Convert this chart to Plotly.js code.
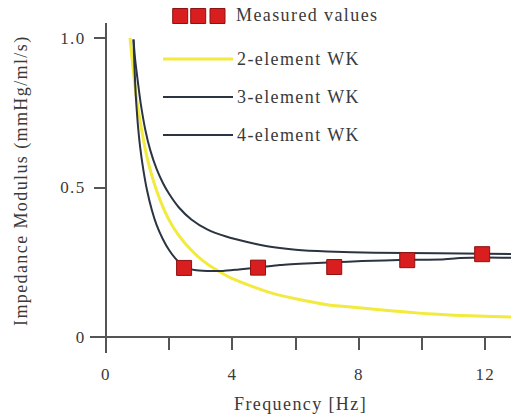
<!DOCTYPE html>
<html>
<head>
<meta charset="utf-8">
<script src="https://cdn.plot.ly/plotly-3.0.1.min.js"></script>
<style>
  html, body { margin: 0; padding: 0; background: #fff; }
  #chart { width: 511px; height: 420px; }
  svg text { letter-spacing: 1.4px; }
</style>
</head>
<body>
<div id="chart"></div>
<script>
// ---- Data ----
const measFreq = [2.47, 4.81, 7.22, 9.53, 11.9];
const measZ    = [0.231, 0.232, 0.234, 0.257, 0.277];

const wk2Freq = [0.76, 0.85, 0.95, 1.05, 1.15, 1.3, 1.45, 1.6, 1.8, 2.0, 2.3, 2.7, 3.1, 3.5, 4.0, 4.6, 5.3, 6.0, 7.0, 8.0, 9.0, 10.0, 11.0, 12.0, 12.82];
const wk2Z    = [1.0, 0.905, 0.81, 0.74, 0.68, 0.6, 0.54, 0.49, 0.435, 0.39, 0.34, 0.29, 0.252, 0.224, 0.195, 0.17, 0.145, 0.128, 0.108, 0.098, 0.088, 0.079, 0.073, 0.069, 0.067];

const wk3Freq = [0.87, 0.92, 1.0, 1.1, 1.25, 1.4, 1.6, 1.8, 2.0, 2.3, 2.7, 3.2, 3.8, 4.5, 5.2, 6.0, 7.0, 8.5, 10.5, 12.82];
const wk3Z    = [0.995, 0.93, 0.86, 0.78, 0.69, 0.625, 0.562, 0.515, 0.478, 0.434, 0.393, 0.360, 0.336, 0.317, 0.302, 0.292, 0.286, 0.282, 0.280, 0.278];

const wk4Freq = [0.87, 0.9, 0.94, 1.0, 1.08, 1.18, 1.3, 1.45, 1.6, 1.8, 2.0, 2.2, 2.47, 2.8, 3.2, 3.7, 4.2, 4.81, 5.5, 6.5, 7.2, 8.1, 9.5, 10.6, 11.2, 12.0, 12.82];
const wk4Z    = [0.995, 0.905, 0.81, 0.72, 0.635, 0.56, 0.49, 0.425, 0.375, 0.327, 0.29, 0.262, 0.235, 0.224, 0.221, 0.221, 0.226, 0.232, 0.241, 0.247, 0.250, 0.254, 0.258, 0.259, 0.264, 0.266, 0.265];

const xTickVals = [0, 2, 4, 6, 8, 10, 12];
const xTickText = ['0', '', '4', '', '8', '', '12'];
const yTickVals = [0, 0.5, 1.0];
const yTickText = ['0', '0.5', '1.0'];

const legendNames = ['Measured values', '2-element WK', '3-element WK', '4-element WK'];
const xTitle = 'Frequency [Hz]';
const yTitle = 'Impedance Modulus (mmHg/ml/s)';

// ---- Styles ----
const FONT = 'Liberation Serif, Times New Roman, serif';
const TXT = '#3a3a3a';
const AX = '#555555';
const DARK = '#2b3441';
const YEL = '#f2ea3c';
const RED = '#d81e1e';
const REDLINE = '#8e1212';

// pixel -> paper helpers (plot domain: x 90..511, y 23..353)
const L = 90, R = 0, T = 23, B = 67, W = 511, H = 420;
const pw = W - L - R, ph = H - T - B;
const px = v => (v - L) / pw;
const py = v => (H - B - v) / ph;

const traces = [
  { x: wk2Freq, y: wk2Z, mode: 'lines', name: legendNames[1],
    line: { color: YEL, width: 3, shape: 'spline', smoothing: 0.6 } },
  { x: wk3Freq, y: wk3Z, mode: 'lines', name: legendNames[2],
    line: { color: DARK, width: 2, shape: 'spline', smoothing: 0.6 } },
  { x: wk4Freq, y: wk4Z, mode: 'lines', name: legendNames[3],
    line: { color: DARK, width: 2, shape: 'spline', smoothing: 0.5 } },
  { x: measFreq, y: measZ, mode: 'markers', name: legendNames[0],
    marker: { symbol: 'square', size: 15, color: RED, line: { color: REDLINE, width: 1 } } }
];

const shapes = [];
const annotations = [];

// legend: three squares + text
[[172.7, 187.7], [190.7, 205.7], [210, 225]].forEach(([a, b]) => {
  shapes.push({ type: 'rect', xref: 'paper', yref: 'paper',
    x0: px(a), x1: px(b), y0: py(23.5), y1: py(8.5),
    fillcolor: RED, line: { color: REDLINE, width: 1 } });
});
annotations.push({ xref: 'paper', yref: 'paper', x: px(234), y: py(15),
  xanchor: 'left', yanchor: 'middle', showarrow: false, text: legendNames[0],
  font: { family: FONT, size: 18, color: TXT } });

const legLines = [
  { y: 59, color: YEL, width: 3, name: legendNames[1] },
  { y: 97, color: DARK, width: 2, name: legendNames[2] },
  { y: 135, color: DARK, width: 2, name: legendNames[3] }
];
legLines.forEach(o => {
  shapes.push({ type: 'line', xref: 'paper', yref: 'paper',
    x0: px(163), x1: px(233), y0: py(o.y), y1: py(o.y),
    line: { color: o.color, width: o.width } });
  annotations.push({ xref: 'paper', yref: 'paper', x: px(235), y: py(o.y),
    xanchor: 'left', yanchor: 'middle', showarrow: false, text: o.name,
    font: { family: FONT, size: 18, color: TXT } });
});

// axis titles
annotations.push({ xref: 'paper', yref: 'paper', x: px(300), y: py(404),
  xanchor: 'center', yanchor: 'middle', showarrow: false, text: xTitle,
  font: { family: FONT, size: 18, color: TXT } });
annotations.push({ xref: 'paper', yref: 'paper', x: px(21), y: py(181),
  xanchor: 'center', yanchor: 'middle', showarrow: false, text: yTitle, textangle: -90,
  font: { family: FONT, size: 18, color: TXT } });

const layout = {
  width: W, height: H,
  margin: { l: L, r: R, t: T, b: B, pad: 0 },
  paper_bgcolor: '#ffffff', plot_bgcolor: '#ffffff',
  showlegend: false,
  font: { family: FONT, size: 17, color: TXT },
  xaxis: {
    range: [(L - 106) / 31.61, (W - R - 106) / 31.61],
    anchor: 'free', position: py(337),
    showline: true, linecolor: AX, linewidth: 2,
    ticks: 'outside', ticklen: 12, tickwidth: 2, tickcolor: AX,
    tickvals: xTickVals, ticktext: xTickText,
    ticklabelstandoff: 10,
    showgrid: false, zeroline: false,
    tickfont: { family: FONT, size: 17, color: TXT }
  },
  yaxis: {
    range: [(337 - (H - B)) / 299, (337 - T) / 299],
    anchor: 'free', position: px(106),
    showline: true, linecolor: AX, linewidth: 2,
    ticks: 'outside', ticklen: 11, tickwidth: 2, tickcolor: AX,
    tickvals: yTickVals, ticktext: yTickText,
    ticklabelstandoff: 5,
    showgrid: false, zeroline: false,
    tickfont: { family: FONT, size: 17, color: TXT }
  },
  shapes: shapes,
  annotations: annotations
};

Plotly.newPlot('chart', traces, layout, { staticPlot: true, displayModeBar: false });
</script>
</body>
</html>
